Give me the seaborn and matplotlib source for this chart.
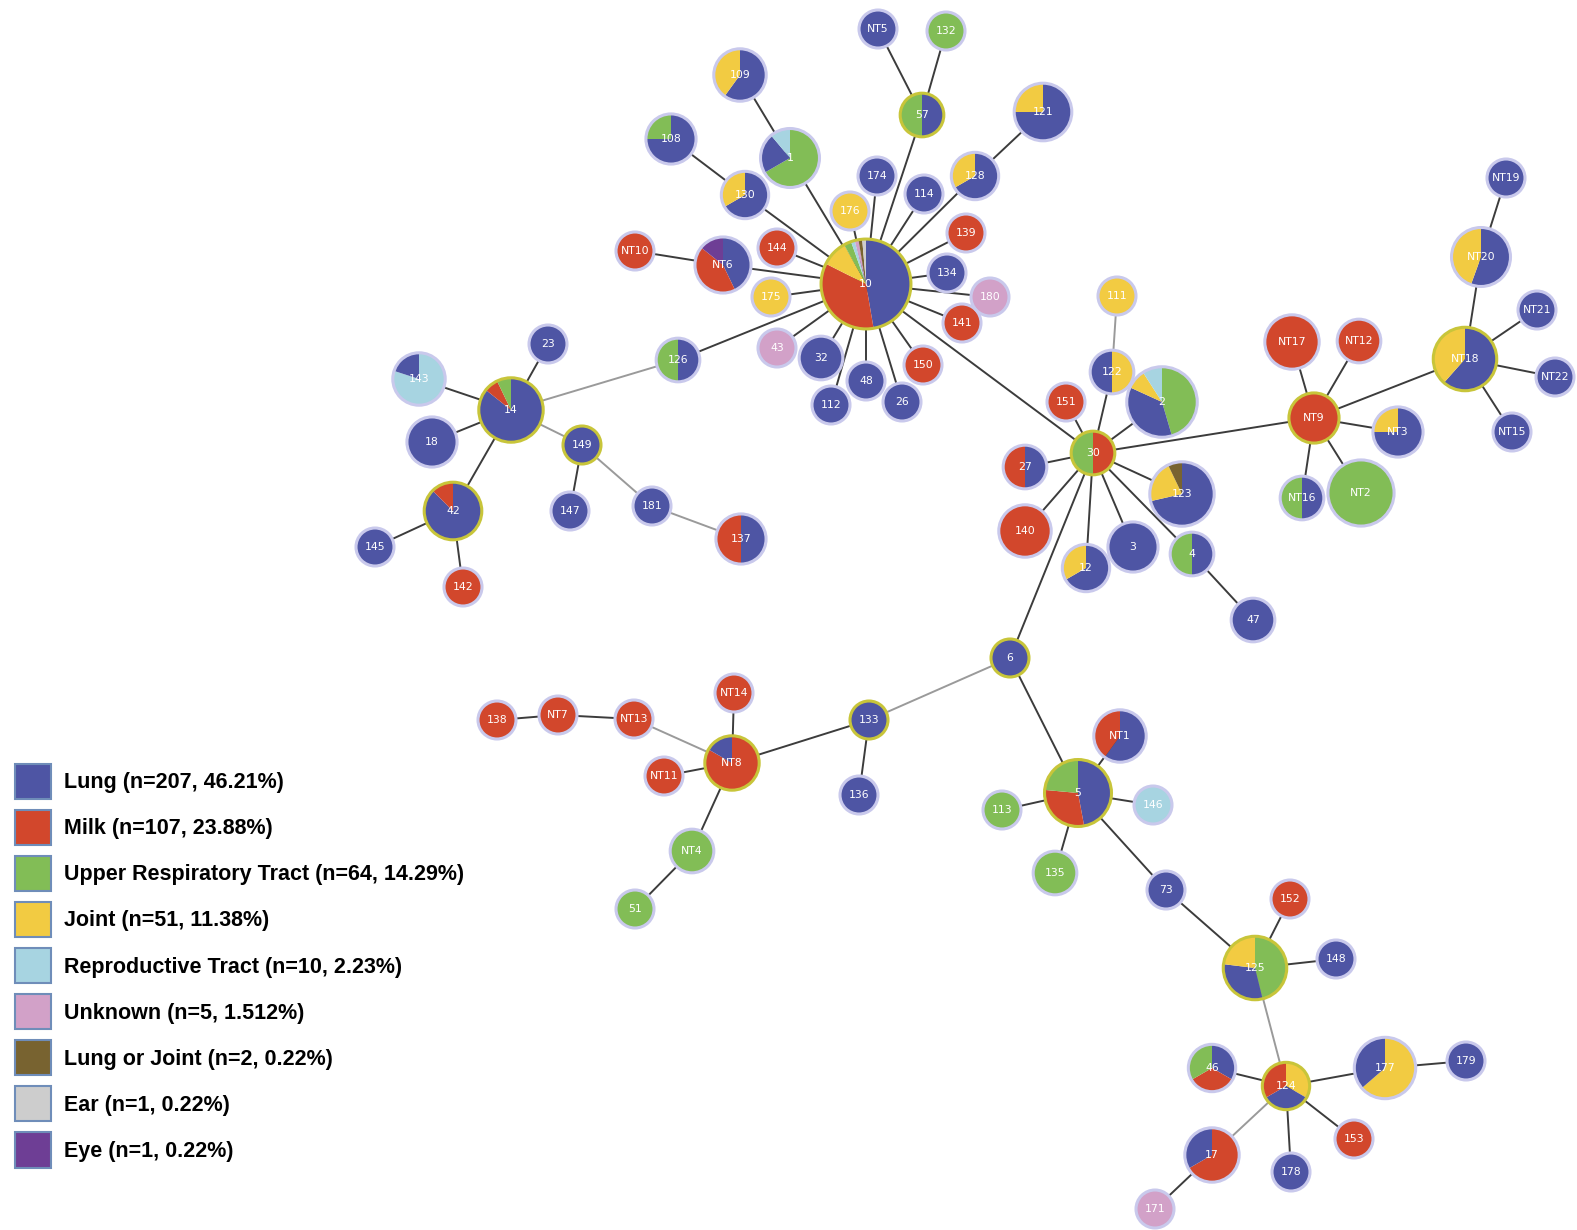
import matplotlib.pyplot as plt
import matplotlib.patches as mpatches
import seaborn as sns

sns.set_theme(style="white")
plt.rcParams['font.family'] = ['DejaVu Sans']

W, H = 1577, 1230

# --- legend categories ---
categories = ['Lung', 'Milk', 'Upper Respiratory Tract', 'Joint', 'Reproductive Tract',
              'Unknown', 'Lung or Joint', 'Ear', 'Eye']
category_codes = ['L', 'M', 'U', 'J', 'R', 'X', 'LJ', 'E', 'Y']
category_n = [207, 107, 64, 51, 10, 5, 2, 1, 1]
category_pct = ['46.21', '23.88', '14.29', '11.38', '2.23', '1.512', '0.22', '0.22', '0.22']
category_colors = ['#4E55A4', '#D2472C', '#82BD56', '#F2CB42', '#A7D4E1',
                   '#D2A1C8', '#786330', '#CDCDCD', '#6E3E95']

# --- nodes (layout position in image pixels, isolate mix per source) ---
node_ids = ['10', '1', '109', '108', '130', 'NT5', '132', '57', '121', '128',
            '174', '114', '176', '139', 'NT10', 'NT6', '144', '175', '134', '180',
            '141', '150', '26', '48', '112', '32', '43', '126',
            '23', '143', '14', '18', '149', '42', '145', '142', '147', '181', '137',
            '111', '122', '2', '151', '30', '27', '123', '140', '12', '3', '4', '47',
            'NT19', 'NT20', 'NT21', 'NT18', 'NT22', 'NT15', 'NT17', 'NT12', 'NT9',
            'NT3', 'NT16', 'NT2',
            '6', '133', '136', 'NT8', 'NT14', 'NT13', 'NT7', '138', 'NT11', 'NT4', '51',
            'NT1', '5', '113', '146', '135', '73', '152', '148', '125',
            '46', '124', '177', '179', '17', '178', '153', '171']
node_x = [866, 790, 740, 671, 745, 878, 946, 922, 1043, 975,
          877, 924, 850, 966, 635, 723, 777, 771, 947, 990,
          962, 923, 902, 866, 831, 821, 777, 678,
          548, 419, 511, 432, 582, 453, 375, 463, 570, 652, 741,
          1117, 1112, 1162, 1066, 1093, 1025, 1182, 1025, 1086, 1133, 1192, 1253,
          1506, 1481, 1537, 1465, 1555, 1512, 1292, 1359, 1314,
          1398, 1302, 1361,
          1010, 869, 859, 732, 734, 634, 558, 497, 664, 692, 635,
          1120, 1078, 1002, 1153, 1055, 1166, 1290, 1336, 1255,
          1212, 1286, 1385, 1466, 1212, 1291, 1354, 1155]
node_y = [284, 158, 75, 139, 195, 29, 31, 115, 112, 176,
          176, 194, 211, 233, 251, 265, 248, 297, 273, 297,
          323, 365, 402, 381, 405, 358, 348, 360,
          344, 379, 410, 442, 445, 511, 547, 587, 511, 506, 539,
          296, 372, 402, 402, 453, 467, 494, 531, 568, 547, 554, 620,
          178, 257, 310, 359, 377, 432, 342, 341, 418,
          432, 498, 493,
          658, 720, 795, 763, 693, 719, 715, 720, 776, 851, 909,
          736, 793, 810, 805, 873, 890, 899, 959, 968,
          1068, 1086, 1068, 1061, 1155, 1172, 1139, 1209]
node_mix = ['L35 M26 J7 U2 R1 X1 LJ1 E1', 'U6 L2 R1', 'L3 J2', 'L3 U1', 'L2 J1', 'L1', 'U1', 'L1 U1', 'L6 J2', 'L2 J1',
            'L1', 'L1', 'J1', 'M1', 'M1', 'L3 M3 Y1', 'M1', 'J1', 'L1', 'X1',
            'M1', 'M1', 'L1', 'L1', 'L1', 'L2', 'X1', 'L1 U1',
            'L1', 'R4 L1', 'L12 M1 U1', 'L4', 'L1', 'L7 M1', 'L1', 'M1', 'L1', 'L1', 'L2 M2',
            'J1', 'J1 L1', 'U10 L8 J2 R2', 'M1', 'M1 U1', 'L1 M1', 'L10 J3 LJ1', 'M5', 'L2 J1', 'L4', 'L1 U1', 'L2',
            'L1', 'L5 J4', 'L1', 'L8 J5', 'L1', 'L1', 'M6', 'M2', 'M4',
            'L3 J1', 'L1 U1', 'U16',
            'L1', 'L1', 'L1', 'M5 L1', 'M1', 'M1', 'M1', 'M1', 'M1', 'U2', 'U1',
            'L3 M2', 'L8 M5 U4', 'U1', 'R1', 'U2', 'L1', 'M1', 'L1', 'U6 L4 J3',
            'L1 M1 U1', 'J1 L1 M1', 'J7 L4', 'L1', 'M4 L2', 'L1', 'M1', 'X1']
hub_nodes = ['10', '57', '14', '149', '42', '30', 'NT9', 'NT18', '6', '133', 'NT8', '5', '125', '124']

# --- tree edges ---
edges = [('10', '1'), ('1', '109'), ('10', '130'), ('130', '108'), ('10', '176'), ('10', '174'),
         ('10', '57'), ('57', 'NT5'), ('57', '132'), ('10', '114'), ('10', '128'), ('128', '121'),
         ('10', '139'), ('10', '134'), ('10', '180'), ('10', '141'), ('10', '150'), ('10', '26'),
         ('10', '48'), ('10', '112'), ('10', '32'), ('10', '43'), ('10', '126'), ('10', '175'),
         ('10', '144'), ('10', 'NT6'), ('NT6', 'NT10'), ('10', '30'),
         ('126', '14'), ('14', '143'), ('14', '23'), ('14', '18'), ('14', '42'), ('14', '149'),
         ('42', '145'), ('42', '142'), ('149', '147'), ('149', '181'), ('181', '137'),
         ('30', '151'), ('30', '122'), ('122', '111'), ('30', '2'), ('30', '27'), ('30', '140'),
         ('30', '12'), ('30', '3'), ('30', '4'), ('4', '47'), ('30', '123'), ('30', 'NT9'), ('30', '6'),
         ('NT9', 'NT17'), ('NT9', 'NT12'), ('NT9', 'NT3'), ('NT9', 'NT16'), ('NT9', 'NT2'),
         ('NT9', 'NT18'), ('NT18', 'NT20'), ('NT20', 'NT19'), ('NT18', 'NT21'), ('NT18', 'NT22'),
         ('NT18', 'NT15'),
         ('6', '133'), ('133', '136'), ('133', 'NT8'), ('NT8', 'NT14'), ('NT8', 'NT13'),
         ('NT13', 'NT7'), ('NT7', '138'), ('NT8', 'NT11'), ('NT8', 'NT4'), ('NT4', '51'),
         ('6', '5'), ('5', 'NT1'), ('5', '113'), ('5', '146'), ('5', '135'), ('5', '73'),
         ('73', '125'), ('125', '152'), ('125', '148'), ('125', '124'), ('124', '46'),
         ('124', '177'), ('177', '179'), ('124', '17'), ('17', '171'), ('124', '178'), ('124', '153')]
light_edges = [('126', '14'), ('14', '149'), ('149', '181'), ('181', '137'), ('NT8', 'NT13'),
               ('6', '133'), ('122', '111'), ('125', '124'), ('124', '17')]

color_of = dict(zip(category_codes, category_colors))
pos = {n: (x, H - y) for n, x, y in zip(node_ids, node_x, node_y)}


def parse_mix(text):
    parts = []
    for tok in text.split():
        code = tok.rstrip('0123456789')
        parts.append((code, int(tok[len(code):])))
    return parts


fig = plt.figure(figsize=(W / 100, H / 100), dpi=100)
ax = fig.add_axes([0, 0, 1, 1])

# edges first
for a, b in edges:
    light = (a, b) in light_edges or (b, a) in light_edges
    (xa, ya), (xb, yb) = pos[a], pos[b]
    ax.plot([xa, xb], [ya, yb], color='#9a9a9a' if light else '#3c3c3c',
            lw=1.4, zorder=1, solid_capstyle='round')

# pie nodes
for nid, mix in zip(node_ids, node_mix):
    parts = parse_mix(mix)
    vals = [n for _, n in parts]
    cols = [color_of[c] for c, _ in parts]
    r = 19 * sum(vals) ** 0.2
    cx, cy = pos[nid]
    ax.pie(vals, colors=cols, radius=r, center=(cx, cy), startangle=90,
           counterclock=False, frame=True, wedgeprops={'linewidth': 0, 'zorder': 3})
    ring = '#C8C53A' if nid in hub_nodes else '#C9C9EC'
    ax.add_patch(mpatches.Circle((cx, cy), r, fill=False, edgecolor=ring, lw=2.2, zorder=4))
    ax.text(cx, cy, nid, color='white', ha='center', va='center', fontsize=7.8, zorder=5)

ax.set_xlim(0, W)
ax.set_ylim(0, H)
ax.set_aspect('equal')
ax.axis('off')

# legend
handles = [mpatches.Patch(facecolor=c, edgecolor='#6F8DB9', linewidth=1.5,
                          label=f"{name} (n={n}, {p}%)")
           for name, n, p, c in zip(categories, category_n, category_pct, category_colors)]
leg = fig.legend(handles=handles, loc='upper left', bbox_to_anchor=(15 / W, 1 - 764 / H),
                 frameon=False, prop={'family': 'Liberation Sans', 'weight': 'bold', 'size': 15.5},
                 handlelength=1.67, handleheight=2.13, labelspacing=0.51, handletextpad=0.6,
                 borderpad=0, borderaxespad=0)
for t in leg.get_texts():
    t.set_color('black')

fig.savefig('out.png', dpi=100, facecolor='white')
